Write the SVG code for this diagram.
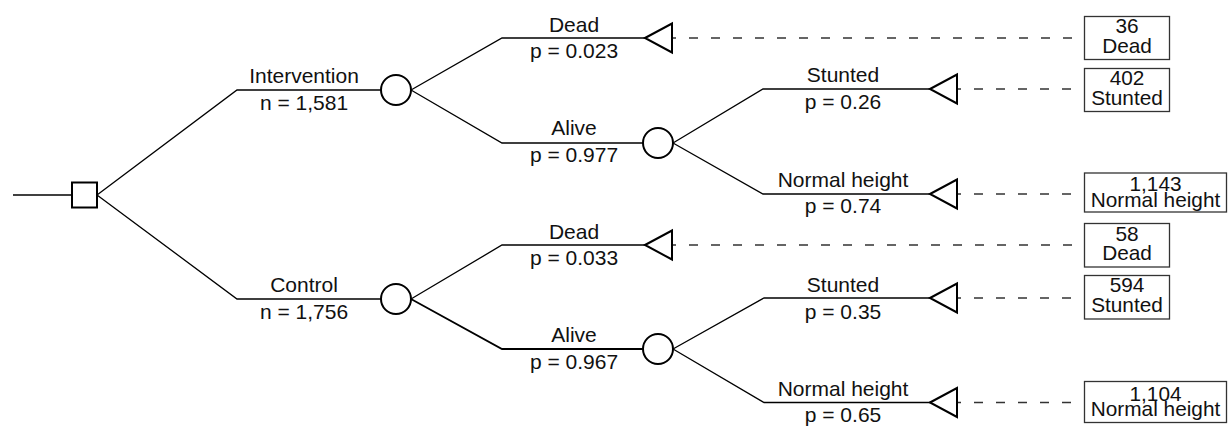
<svg xmlns="http://www.w3.org/2000/svg" width="1229" height="427" viewBox="0 0 1229 427">
<style>
text{font-family:"Liberation Sans",Arial,sans-serif;font-size:21px;fill:#111;text-anchor:middle}
.bt{font-size:20.8px}
.br{fill:none;stroke:#000;stroke-width:1.3}
.dash{fill:none;stroke:#333;stroke-width:1.4;stroke-dasharray:9 13}
.chance{fill:#fff;stroke:#000;stroke-width:2}
.term{fill:#fff;stroke:#000;stroke-width:2;stroke-linejoin:miter}
.box{fill:#fff;stroke:#333;stroke-width:1.3}
</style>
<rect width="1229" height="427" fill="#fff"/>
<g id="connectors">
<path class="dash" d="M645,38H1084M930,89H1084M930,194H1084M645,245H1084M930,298H1084M930,402.5H1084"/>
<path class="br" d="M13,195H72"/>
<path class="br" d="M97,195L237,90H381"/>
<path class="br" d="M97,195L237,299H381"/>
<path class="br" d="M411,90L502,38H645"/>
<path class="br" d="M411,90L502,143H643"/>
<path class="br" d="M673,143L763,89H930"/>
<path class="br" d="M673,143L763,194H930"/>
<path class="br" d="M411,299L502,245H645"/>
<path class="br" d="M411,299L502,349H643" style="stroke-width:1.8"/>
<path class="br" d="M673,349L764,298H930"/>
<path class="br" d="M673,349L764,402.5H930"/>
<text x="304" y="83">Intervention</text>
<text x="304" y="110">n = 1,581</text>
<text x="304" y="292">Control</text>
<text x="304" y="319">n = 1,756</text>
<text x="574" y="31.5">Dead</text>
<text x="574" y="58">p = 0.023</text>
<text x="574" y="135">Alive</text>
<text x="574" y="162">p = 0.977</text>
<text x="574" y="238.5">Dead</text>
<text x="574" y="265">p = 0.033</text>
<text x="574" y="342">Alive</text>
<text x="574" y="368.5">p = 0.967</text>
<text x="843" y="82">Stunted</text>
<text x="843" y="109">p = 0.26</text>
<text x="843" y="187">Normal height</text>
<text x="843" y="213">p = 0.74</text>
<text x="843" y="291.5">Stunted</text>
<text x="843" y="319">p = 0.35</text>
<text x="843" y="395.5">Normal height</text>
<text x="843" y="422">p = 0.65</text>
</g>
<g id="decision"><rect x="72" y="182.5" width="25" height="25" class="chance"/></g>
<g id="chance-intervention"><circle cx="396" cy="90" r="15" class="chance"/></g>
<g id="chance-int-alive"><circle cx="658" cy="143" r="15" class="chance"/></g>
<g id="chance-control"><circle cx="396" cy="299" r="15" class="chance"/></g>
<g id="chance-ctl-alive"><circle cx="658" cy="349" r="15" class="chance"/></g>
<g id="term-int-dead"><polygon class="term" points="645,38 672,23.5 672,52.5"/></g>
<g id="term-int-stunted"><polygon class="term" points="930,89 957,74.5 957,103.5"/></g>
<g id="term-int-normal"><polygon class="term" points="930,194 957,179.5 957,208.5"/></g>
<g id="term-ctl-dead"><polygon class="term" points="645,245 672,230.5 672,259.5"/></g>
<g id="term-ctl-stunted"><polygon class="term" points="930,298 957,283.5 957,312.5"/></g>
<g id="term-ctl-normal"><polygon class="term" points="930,402.5 957,388 957,417"/></g>
<g id="out-int-dead"><rect class="box" x="1084.5" y="16.5" width="85" height="43"/><text class="bt" x="1127" y="33">36</text><text class="bt" x="1127" y="52.5">Dead</text></g>
<g id="out-int-stunted"><rect class="box" x="1084.5" y="68.5" width="85" height="43"/><text class="bt" x="1127" y="85">402</text><text class="bt" x="1127" y="104.5">Stunted</text></g>
<g id="out-int-normal"><rect class="box" x="1084.5" y="173" width="142" height="39"/><text class="bt" x="1155.5" y="191">1,143</text><text class="bt" x="1155.5" y="206.5">Normal height</text></g>
<g id="out-ctl-dead"><rect class="box" x="1084.5" y="223.5" width="85" height="43.5"/><text class="bt" x="1127" y="240.5">58</text><text class="bt" x="1127" y="260">Dead</text></g>
<g id="out-ctl-stunted"><rect class="box" x="1084.5" y="275.5" width="85" height="43.5"/><text class="bt" x="1127" y="292">594</text><text class="bt" x="1127" y="311.5">Stunted</text></g>
<g id="out-ctl-normal"><rect class="box" x="1084.5" y="381.5" width="142" height="41"/><text class="bt" x="1155.5" y="400.5">1,104</text><text class="bt" x="1155.5" y="416">Normal height</text></g>
</svg>
